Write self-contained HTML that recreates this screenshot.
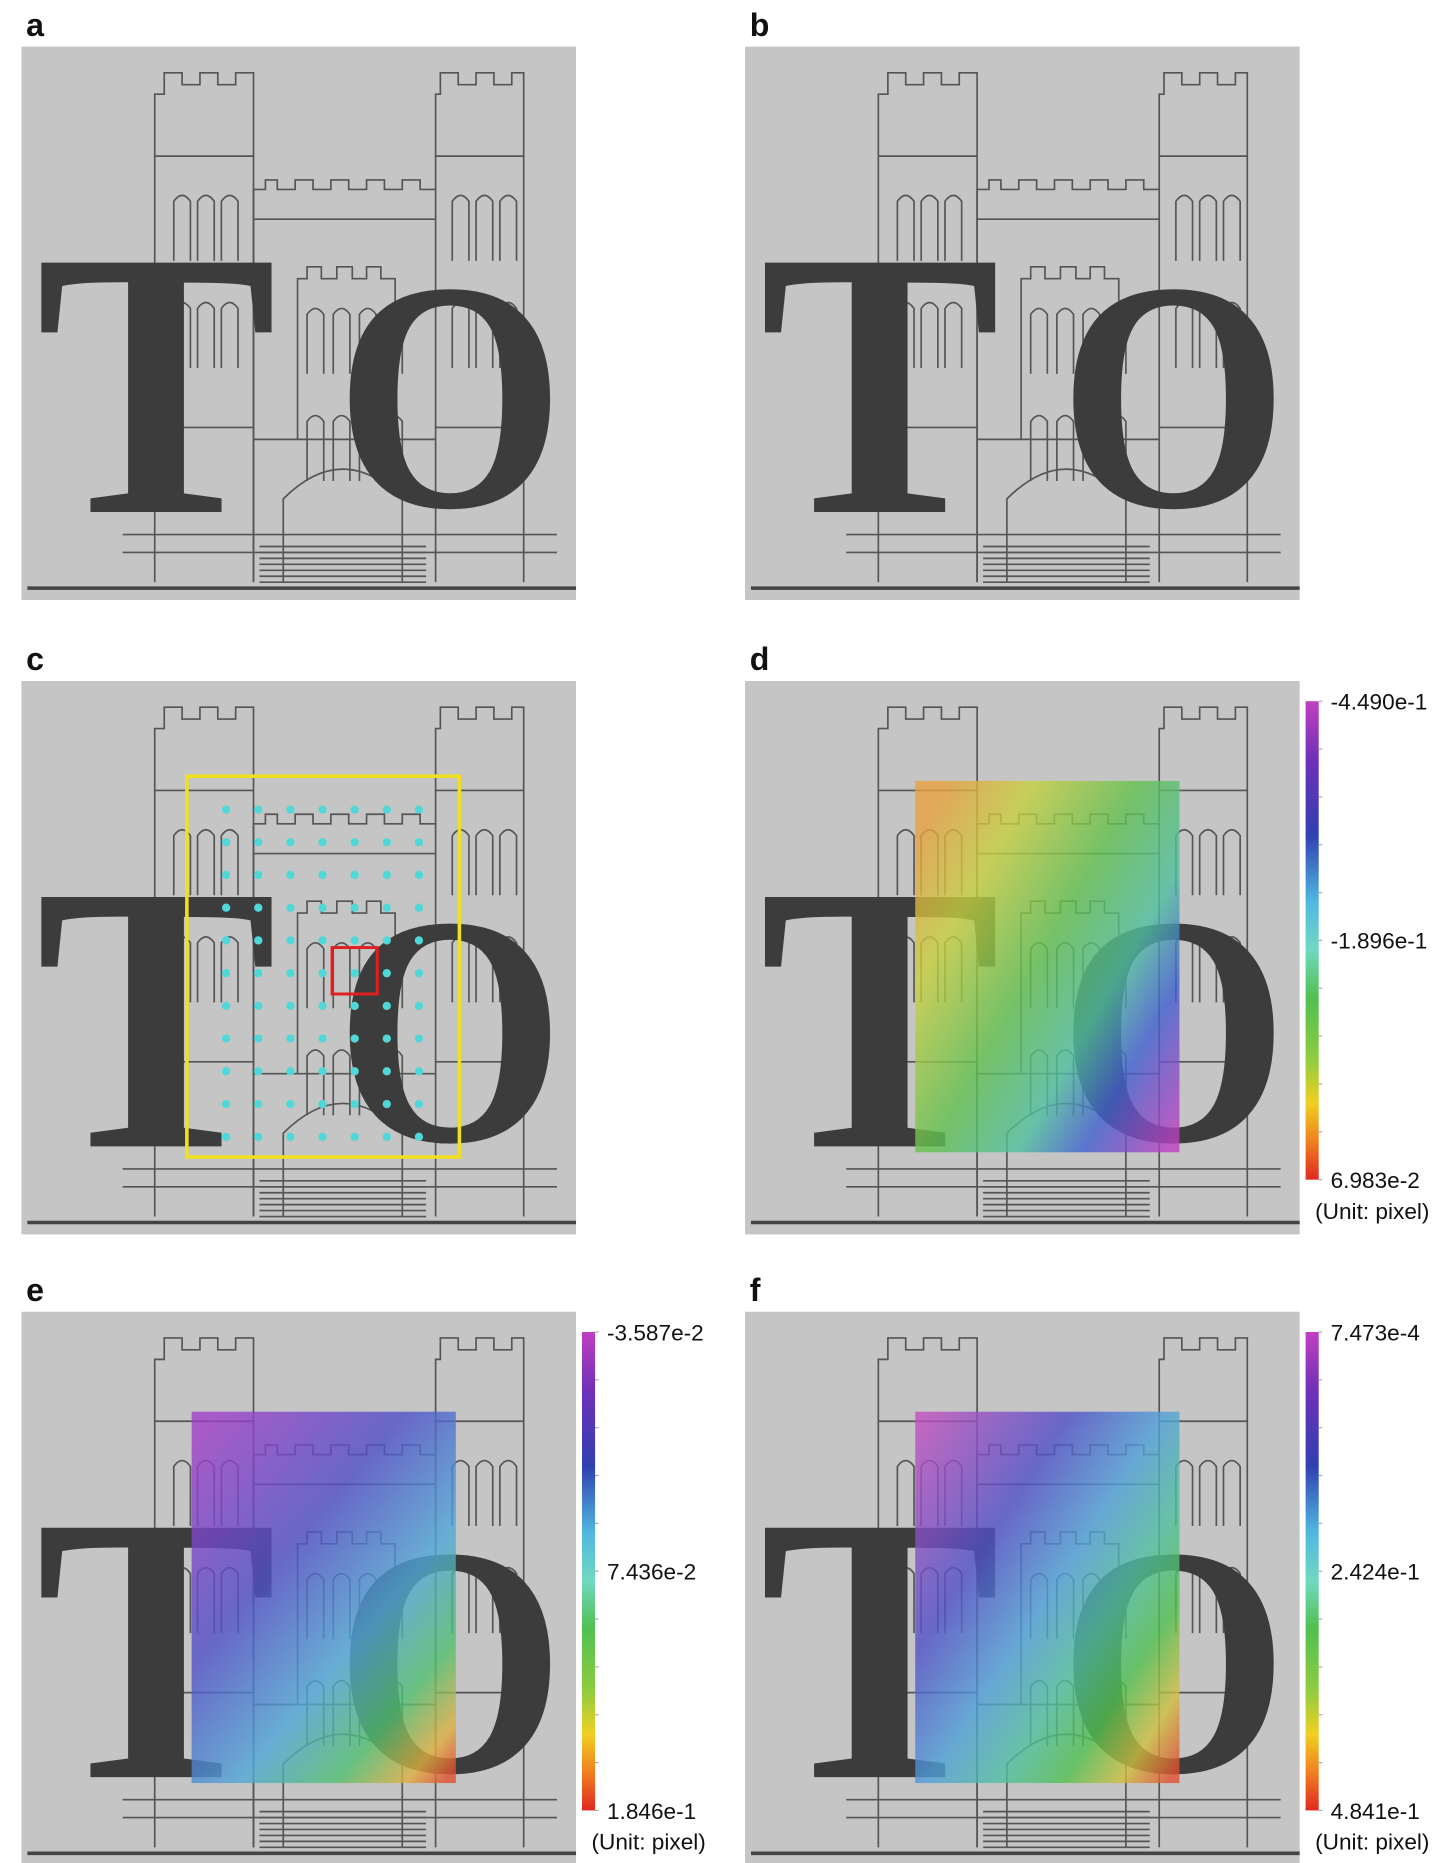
<!DOCTYPE html>
<html><head><meta charset="utf-8">
<style>
html,body{margin:0;padding:0;background:#fff;}
svg{display:block;}
text{font-family:"Liberation Sans",Arial,sans-serif;}
</style></head>
<body>
<svg id="fig" width="1452" height="1863" viewBox="0 0 1220 1565" xmlns="http://www.w3.org/2000/svg">
<defs>
<linearGradient id="cbar" x1="0" y1="0" x2="0" y2="1">
<stop offset="0" stop-color="#c040c0"/><stop offset="0.12" stop-color="#7030b8"/>
<stop offset="0.28" stop-color="#3040b0"/><stop offset="0.42" stop-color="#50b8e0"/>
<stop offset="0.52" stop-color="#70d8c0"/><stop offset="0.62" stop-color="#50c050"/>
<stop offset="0.75" stop-color="#90cc40"/><stop offset="0.84" stop-color="#f0d020"/>
<stop offset="0.92" stop-color="#f08020"/><stop offset="1" stop-color="#e02820"/>
</linearGradient>
<linearGradient id="gd" x1="0" y1="0.15" x2="1" y2="0.95">
<stop offset="0" stop-color="#e8a040"/><stop offset="0.2" stop-color="#c8d040"/>
<stop offset="0.45" stop-color="#60c050"/><stop offset="0.65" stop-color="#50c0a0"/>
<stop offset="0.8" stop-color="#4060d0"/><stop offset="1" stop-color="#c040c0"/>
</linearGradient>
<linearGradient id="ge" x1="0.1" y1="0" x2="0.95" y2="1">
<stop offset="0" stop-color="#a040c8"/><stop offset="0.35" stop-color="#5050c8"/>
<stop offset="0.62" stop-color="#50a8d8"/><stop offset="0.8" stop-color="#50c070"/>
<stop offset="0.93" stop-color="#e0b040"/><stop offset="1" stop-color="#e05030"/>
</linearGradient>
<linearGradient id="gf" x1="0" y1="0.05" x2="1" y2="0.95">
<stop offset="0" stop-color="#c050c0"/><stop offset="0.3" stop-color="#5050c8"/>
<stop offset="0.5" stop-color="#50a0d8"/><stop offset="0.65" stop-color="#50c0a0"/>
<stop offset="0.78" stop-color="#50c050"/><stop offset="0.9" stop-color="#d0c040"/>
<stop offset="1" stop-color="#e05030"/>
</linearGradient>
</defs>
</svg>
<script>
// panel layout data
var panelLabels = ['a','b','c','d','e','f'];
var panelX = [18, 626, 18, 626, 18, 626];
var panelY = [39, 39, 572, 572, 1102, 1102];
var overlayGrad = [null, null, null, 'gd', 'ge', 'gf'];
// colorbar tick labels (top, middle, bottom)
var cbarD = ['-4.490e-1', '-1.896e-1', '6.983e-2'];
var cbarE = ['-3.587e-2', '7.436e-2', '1.846e-1'];
var cbarF = ['7.473e-4', '2.424e-1', '4.841e-1'];
var cbarLabels = [null, null, null, cbarD, cbarE, cbarF];
// grid of tracked points in panel c (columns x rows)
var gridCols = 7, gridRows = 11;

var NS = 'http://www.w3.org/2000/svg';
var svg = document.getElementById('fig');
function mk(tag, attrs, parent) {
  var e = document.createElementNS(NS, tag);
  for (var k in attrs) e.setAttribute(k, attrs[k]);
  (parent || svg).appendChild(e);
  return e;
}

function scene(g) {
  mk('rect', {x:0, y:0, width:466, height:465, fill:'#c5c5c5'}, g);
  var ln = mk('g', {fill:'none', stroke:'#555', 'stroke-width':1.4}, g);
  mk('path', {d:'M112 450 V40 H120 V22 H135 V32 H150 V22 H165 V32 H180 V22 H195 V450'}, ln);
  mk('path', {d:'M348 450 V40 H352 V22 H367 V32 H382 V22 H397 V32 H412 V22 H422 V450'}, ln);
  mk('path', {d:'M112 92 H195 M348 92 H422'}, ln);
  mk('path', {d:'M195 450 V120 H205 V112 H215 V120 H230 V112 H245 V120 H260 V112 H275 V120 H290 V112 H305 V120 H320 V112 H335 V120 H348'}, ln);
  mk('path', {d:'M195 145 H348 M195 330 H348 M112 320 H195 M348 320 H422'}, ln);
  mk('path', {d:'M232 330 V195 H240 V185 H252 V195 H265 V185 H278 V195 H290 V185 H302 V195 H314 V330'}, ln);
  var wx = [128, 148, 168, 362, 382, 402, 240, 262, 284, 306];
  for (var i = 0; i < wx.length; i++) {
    var wy = i < 6 ? 120 : 215;
    mk('path', {d:'M'+wx[i]+' '+(wy+60)+' V'+(wy+10)+' Q'+(wx[i]+7)+' '+wy+' '+(wx[i]+14)+' '+(wy+10)+' V'+(wy+60)}, ln);
    mk('path', {d:'M'+wx[i]+' '+(wy+150)+' V'+(wy+100)+' Q'+(wx[i]+7)+' '+(wy+90)+' '+(wx[i]+14)+' '+(wy+100)+' V'+(wy+150)}, ln);
  }
  mk('path', {d:'M220 450 V380 Q270 330 320 380 V450'}, ln);
  for (var s = 0; s < 8; s++) mk('line', {x1:200, x2:340, y1:420+s*5, y2:420+s*5}, ln);
  mk('path', {d:'M85 410 H450 M85 425 H450'}, ln);
  mk('line', {x1:5, x2:466, y1:455, y2:455, stroke:'#444', 'stroke-width':3}, g);
  var t = mk('text', {x:12, y:391, 'font-size':320, 'font-weight':'bold', fill:'#3c3c3c', transform:'translate(12 0) scale(0.95 1) translate(-12 0)', style:'font-family:"Liberation Serif",serif'}, g);
  t.textContent = 'T';
  var o = mk('text', {x:360, y:386, 'font-size':275, 'font-weight':'bold', fill:'#3c3c3c', 'text-anchor':'middle', transform:'translate(360 0) scale(0.9 1) translate(-360 0)', style:'font-family:"Liberation Serif",serif'}, g);
  o.textContent = 'O';
}

for (var p = 0; p < 6; p++) {
  var lab = mk('text', {x:panelX[p]+4, y:panelY[p]-9, 'font-size':27, 'font-weight':'bold', fill:'#111'});
  
  
  lab.textContent = panelLabels[p];
  var g = mk('g', {transform:'translate('+panelX[p]+' '+panelY[p]+')'});
  
  
  scene(g);
  if (p === 2) {
    var roi = mk('rect', {x:139, y:80, width:229, height:320, fill:'none', stroke:'#f0e020', 'stroke-width':3}, g);
    
    
    for (var c = 0; c < gridCols; c++) for (var r = 0; r < gridRows; r++) {
      var dot = mk('circle', {cx:172 + c*27, cy:108 + r*27.5, r:3.5, fill:'#50d8d8'}, g);
      
      
    }
    var sub = mk('rect', {x:261, y:224, width:38, height:39, fill:'none', stroke:'#e02020', 'stroke-width':2.5}, g);
    
    
  }
  if (overlayGrad[p]) {
    var ov = mk('rect', {x:143, y:84, width:222, height:312, fill:'url(#'+overlayGrad[p]+')', opacity:0.8}, g);
    
    
    var cx = panelX[p] + 471, cy = panelY[p] + 17, ch = 402;
    var cb = mk('rect', {x:cx, y:cy, width:11, height:ch, fill:'url(#cbar)'});
    
    
    for (var k = 0; k <= 10; k++) mk('line', {x1:cx+11, x2:cx+14, y1:cy+k*ch/10, y2:cy+k*ch/10, stroke:'#aaa', 'stroke-width':1});
    var labs = cbarLabels[p];
    for (var j = 0; j < labs.length; j++) {
      var tl = mk('text', {x:cx+21, y:cy + j*ch/2 + 7, 'font-size':19, fill:'#111'});
      
      
      tl.textContent = labs[j];
    }
    var u = mk('text', {x:cx+8, y:cy+ch+33, 'font-size':19, fill:'#111'});
    
    
    u.textContent = '(Unit: pixel)';
  }
}
</script>
</body></html>
